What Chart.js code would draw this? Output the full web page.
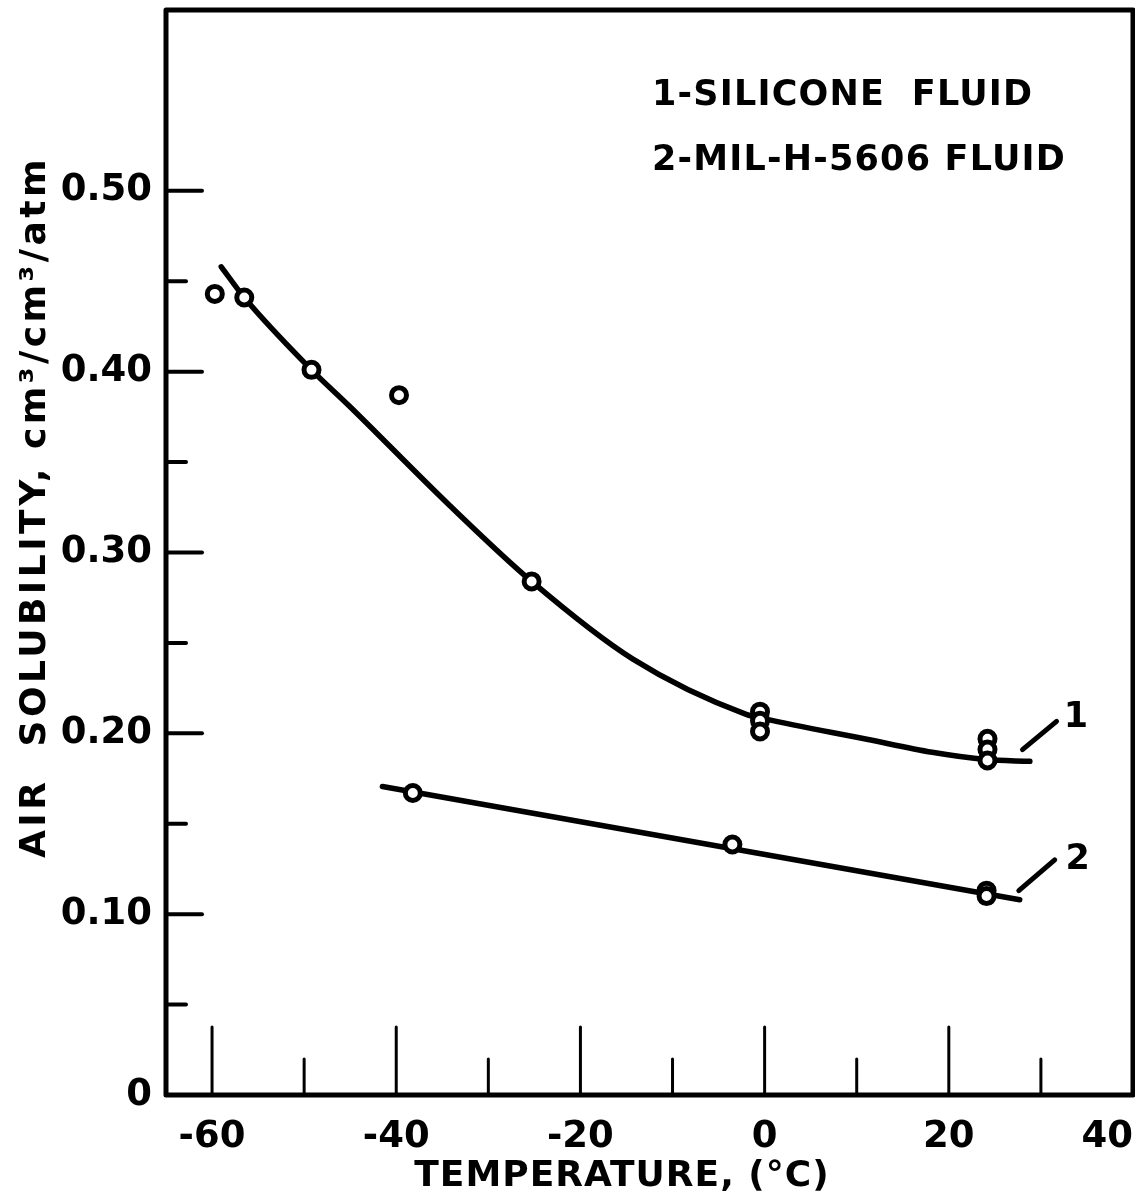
<!DOCTYPE html>
<html>
<head>
<meta charset="utf-8">
<script src="https://cdn.jsdelivr.net/npm/chart.js@4.4.1/dist/chart.umd.min.js"></script>
<style>
  html, body { margin: 0; padding: 0; background: #fff; }
  #chart { display: block; }
</style>
</head>
<body>
<canvas id="chart" width="1135" height="1200"></canvas>
<script>
// curve 1 - silicone fluid, measured points
const siliconeTemp = [-59.7, -56.5, -49.2, -39.7, -25.3, -0.5, -0.5, -0.5, 24.2, 24.2, 24.2];
const siliconeSol = [0.443, 0.441, 0.401, 0.387, 0.284, 0.212, 0.207, 0.201, 0.197, 0.191, 0.185];
// hand drawn curve through them
const siliconeFitTemp = [-59.0, -56.5, -49.2, -45.1, -34.2, -25.3, -14.3, -2.0, 0.0, 11.1, 18.2, 24.0, 28.8];
const siliconeFitSol = [0.458, 0.441, 0.401, 0.381, 0.326, 0.284, 0.241, 0.2105, 0.208, 0.1967, 0.1895, 0.1855, 0.1845];

// curve 2 - MIL-H-5606 fluid
const milTemp = [-38.2, -3.5, 24.1, 24.1];
const milSol = [0.167, 0.1385, 0.113, 0.110];
const milFitTemp = [-41.5, 27.7];
const milFitSol = [0.1706, 0.108];

// leader lines to the curve numbers
const leader1Temp = [28.0, 31.7];
const leader1Sol = [0.191, 0.2066];
const leader2Temp = [27.6, 31.5];
const leader2Sol = [0.113, 0.130];
const curveLabels = ['1', '2'];
const curveLabelTemp = [33.8, 34.0];
const curveLabelSol = [0.2085, 0.130];

const xMajorTicks = [-60, -40, -20, 0, 20, 40];
const xMinorTicks = [-50, -30, -10, 10, 30];
const xTickLabels = ['-60', '-40', '-20', '0', '20', '40'];
const yMajorTicks = [0, 0.1, 0.2, 0.3, 0.4, 0.5];
const yMinorTicks = [0.05, 0.15, 0.25, 0.35, 0.45];
const yTickLabels = ['0', '0.10', '0.20', '0.30', '0.40', '0.50'];

const legendLines = ['1-SILICONE  FLUID', '2-MIL-H-5606 FLUID'];
const xTitle = 'TEMPERATURE, (°C)';
const yTitle = 'AIR  SOLUBILITY, cm³/cm³/atm';

const FONT = '"DejaVu Sans", "Liberation Sans", sans-serif';
const pairs = (xs, ys) => xs.map((x, i) => ({ x, y: ys[i] }));

const lineSet = (data, width, extra) => ({
    data,
    showLine: true,
    borderColor: '#000',
    borderWidth: width,
    borderCapStyle: 'round',
    pointRadius: 0,
    order: 2,
    ...extra,
});
const pointSet = (data) => ({
    data,
    showLine: false,
    pointStyle: 'circle',
    pointRadius: 7.5,
    pointBorderWidth: 5,
    pointBorderColor: '#000',
    pointBackgroundColor: '#fff',
    order: 0,
});

// drop the label overhang Chart.js reserves, the box sits where the paper has it
const noOverhang = s => {
    s.paddingTop = 0;
    s.paddingBottom = 0;
    s.paddingLeft = 0;
    s.paddingRight = 0;
};

// box, inward ticks and the hand lettering
const paperAxes = {
    id: 'paperAxes',
    afterDraw(chart) {
        const { ctx, chartArea: a, scales: { x, y } } = chart;
        ctx.save();
        ctx.strokeStyle = '#000';
        ctx.fillStyle = '#000';
        ctx.lineCap = 'round';
        ctx.lineJoin = 'round';

        ctx.lineWidth = 5;
        ctx.strokeRect(a.left, a.top, a.right - a.left, a.bottom - a.top);

        const tick = (x1, y1, x2, y2) => {
            ctx.beginPath();
            ctx.moveTo(x1, y1);
            ctx.lineTo(x2, y2);
            ctx.stroke();
        };
        ctx.lineWidth = 4;
        yMajorTicks.forEach(v => {
            if (v <= y.min) return;
            const py = y.getPixelForValue(v);
            tick(a.left, py, a.left + 36, py);
        });
        yMinorTicks.forEach(v => {
            const py = y.getPixelForValue(v);
            tick(a.left, py, a.left + 20, py);
        });
        ctx.lineWidth = 3;
        xMajorTicks.forEach(v => {
            if (v >= x.max || v <= x.min) return;
            const px = x.getPixelForValue(v);
            tick(px, a.bottom, px, a.bottom - 68);
        });
        xMinorTicks.forEach(v => {
            const px = x.getPixelForValue(v);
            tick(px, a.bottom, px, a.bottom - 36);
        });

        // leader lines
        ctx.lineWidth = 5;
        [[leader1Temp, leader1Sol], [leader2Temp, leader2Sol]].forEach(([xs, ys]) => {
            tick(x.getPixelForValue(xs[0]), y.getPixelForValue(ys[0]),
                 x.getPixelForValue(xs[1]), y.getPixelForValue(ys[1]));
        });

        ctx.font = 'bold 35px ' + FONT;
        ctx.letterSpacing = '1.2px';
        ctx.textAlign = 'left';
        ctx.textBaseline = 'alphabetic';
        legendLines.forEach((t, i) => ctx.fillText(t, 652, 105 + i * 65));

        ctx.letterSpacing = '0px';
        ctx.textAlign = 'center';
        ctx.textBaseline = 'middle';
        curveLabels.forEach((t, i) => {
            ctx.fillText(t, x.getPixelForValue(curveLabelTemp[i]), y.getPixelForValue(curveLabelSol[i]));
        });

        ctx.font = 'bold 36px ' + FONT;
        ctx.letterSpacing = '1px';
        ctx.fillText(xTitle, 622, 1177);

        ctx.translate(36, 507);
        ctx.rotate(-Math.PI / 2);
        ctx.letterSpacing = '3.5px';
        ctx.fillText(yTitle, 0, 0);
        ctx.restore();
    },
};

const tickFont = { family: FONT, weight: 'bold', size: 37 };

new Chart(document.getElementById('chart'), {
    type: 'scatter',
    data: {
        datasets: [
            lineSet(pairs(siliconeFitTemp, siliconeFitSol), 5.5, { cubicInterpolationMode: 'monotone' }),
            lineSet(pairs(milFitTemp, milFitSol), 5.5),
            pointSet(pairs(siliconeTemp, siliconeSol)),
            pointSet(pairs(milTemp, milSol)),
        ],
    },
    options: {
        responsive: false,
        animation: false,
        layout: { autoPadding: false, padding: { top: 10, right: 2, left: 0, bottom: 0 } },
        plugins: {
            legend: { display: false },
            tooltip: { enabled: false },
        },
        scales: {
            x: {
                type: 'linear',
                min: -65,
                max: 40,
                grid: { display: false, drawTicks: false },
                border: { display: false },
                afterBuildTicks: s => {
                    s.ticks = [{ value: s.min }, ...xMajorTicks.map(v => ({ value: v }))];
                },
                afterFit: s => {
                    s.height = 105;
                    noOverhang(s);
                },
                ticks: {
                    autoSkip: false,
                    maxRotation: 0,
                    align: 'inner',
                    padding: 20,
                    color: '#000',
                    font: tickFont,
                    callback: v => {
                        const i = xMajorTicks.indexOf(v);
                        return i < 0 ? '' : xTickLabels[i];
                    },
                },
            },
            y: {
                type: 'linear',
                min: 0,
                max: 0.6,
                grid: { display: false, drawTicks: false },
                border: { display: false },
                afterBuildTicks: s => {
                    s.ticks = yMajorTicks.map(v => ({ value: v }));
                },
                afterFit: s => {
                    s.width = 166;
                    noOverhang(s);
                },
                ticks: {
                    padding: 14,
                    color: '#000',
                    font: tickFont,
                    callback: (v, i) => yTickLabels[i],
                },
            },
        },
    },
    plugins: [paperAxes],
});
</script>
</body>
</html>
